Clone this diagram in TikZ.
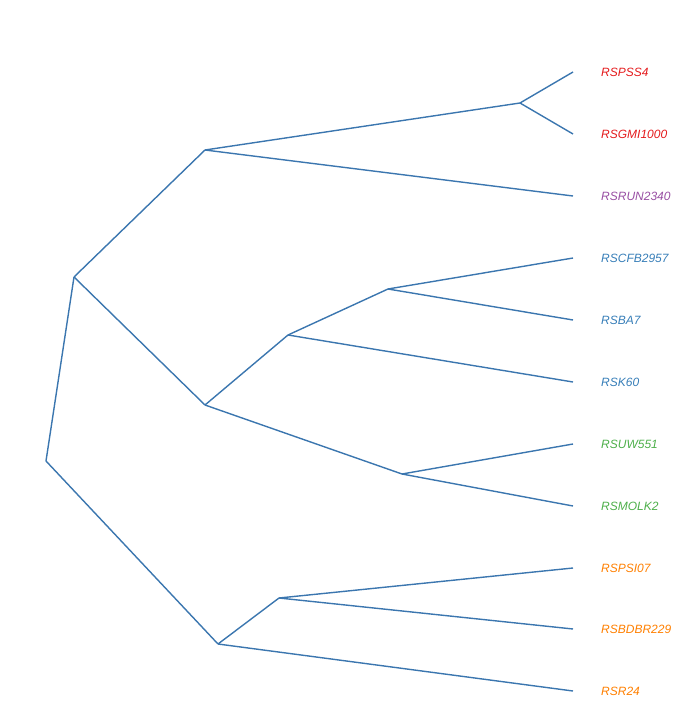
\documentclass[tikz,border=0pt]{standalone}
\usepackage{fontspec}
\setmainfont{Liberation Sans}
\definecolor{edgec}{HTML}{3B76AF}
\definecolor{cred}{HTML}{E41A1C}
\definecolor{cpurple}{HTML}{984EA3}
\definecolor{cblue}{HTML}{377EB8}
\definecolor{cgreen}{HTML}{4DAF4A}
\definecolor{corange}{HTML}{FF7F00}
\begin{document}
\begin{tikzpicture}[x=1bp,y=-1bp,
  edge/.style={draw=edgec,line width=1.4bp},
  leaflabel/.style={anchor=west,inner sep=0pt,font=\fontsize{12bp}{14bp}\selectfont\itshape}]
\useasboundingbox (0,0) rectangle (696,727);
% leaves
\coordinate (l1) at (573,72);
\coordinate (l2) at (573,134);
\coordinate (l3) at (573,196);
\coordinate (l4) at (573,258);
\coordinate (l5) at (573,320);
\coordinate (l6) at (573,382);
\coordinate (l7) at (573,444);
\coordinate (l8) at (573,506);
\coordinate (l9) at (573,568);
\coordinate (l10) at (573,629);
\coordinate (l11) at (573,691);
% internal
\coordinate (A) at (520,103);
\coordinate (B) at (205,150);
\coordinate (C) at (388,289);
\coordinate (D) at (288,335);
\coordinate (E) at (402,474);
\coordinate (F) at (205,405);
\coordinate (G) at (74,277);
\coordinate (H) at (279,598);
\coordinate (I) at (218,644);
\coordinate (R) at (46,461);
% edges
\draw[edge] (A) -- (l1);
\draw[edge] (A) -- (l2);
\draw[edge] (B) -- (A);
\draw[edge] (B) -- (l3);
\draw[edge] (C) -- (l4);
\draw[edge] (C) -- (l5);
\draw[edge] (D) -- (C);
\draw[edge] (D) -- (l6);
\draw[edge] (E) -- (l7);
\draw[edge] (E) -- (l8);
\draw[edge] (F) -- (D);
\draw[edge] (F) -- (E);
\draw[edge] (G) -- (B);
\draw[edge] (G) -- (F);
\draw[edge] (H) -- (l9);
\draw[edge] (H) -- (l10);
\draw[edge] (I) -- (H);
\draw[edge] (I) -- (l11);
\draw[edge] (R) -- (G);
\draw[edge] (R) -- (I);
% labels
\node[leaflabel,text=cred] (t1) at (601,72.5) {RSPSS4};
\node[leaflabel,text=cred] (t2) at (601,134.5) {RSGMI1000};
\node[leaflabel,text=cpurple] (t3) at (601,196.5) {RSRUN2340};
\node[leaflabel,text=cblue] (t4) at (601,258.5) {RSCFB2957};
\node[leaflabel,text=cblue] (t5) at (601,320.5) {RSBA7};
\node[leaflabel,text=cblue] (t6) at (601,382.5) {RSK60};
\node[leaflabel,text=cgreen] (t7) at (601,444.5) {RSUW551};
\node[leaflabel,text=cgreen] (t8) at (601,506.5) {RSMOLK2};
\node[leaflabel,text=corange] (t9) at (601,568.5) {RSPSI07};
\node[leaflabel,text=corange] (t10) at (601,629.5) {RSBDBR229};
\node[leaflabel,text=corange] (t11) at (601,691.5) {RSR24};
\end{tikzpicture}
\end{document}
